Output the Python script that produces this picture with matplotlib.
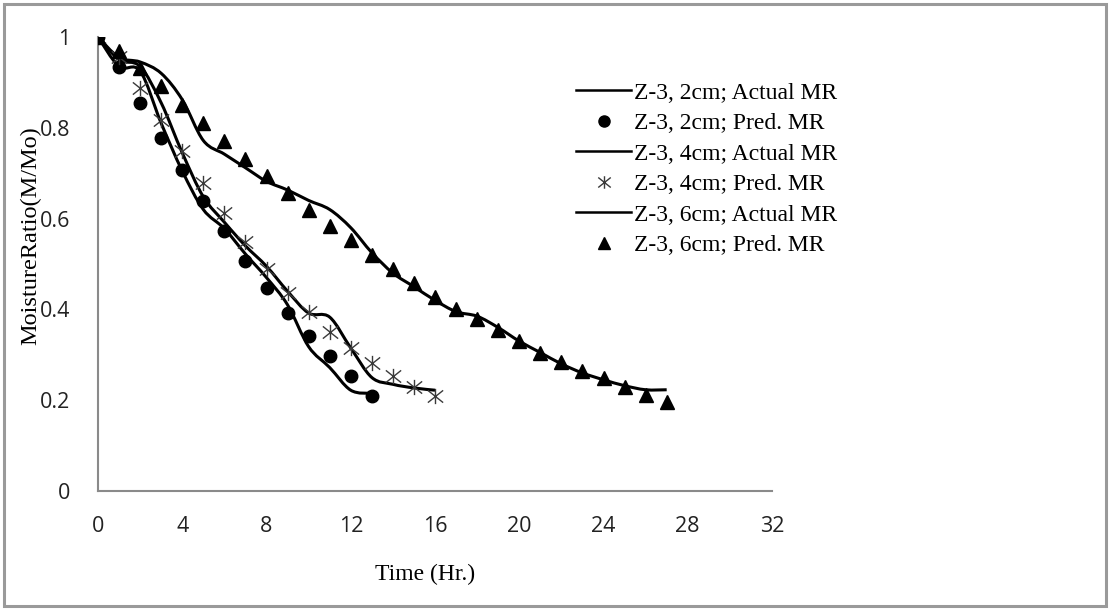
import numpy as np
import matplotlib.pyplot as plt
from matplotlib.path import Path
from matplotlib.patches import PathPatch, Rectangle
from matplotlib.lines import Line2D

# ---------------------------------------------------------------------------
# Moisture ratio data (hourly readings)
# ---------------------------------------------------------------------------
hours_2cm = np.arange(0, 14)
actual_2cm = [1.0, 0.935, 0.925, 0.81, 0.705, 0.62, 0.578, 0.522, 0.47, 0.41,
              0.318, 0.272, 0.222, 0.215]
pred_2cm = [1.0, 0.934, 0.855, 0.778, 0.707, 0.639, 0.573, 0.507, 0.447, 0.392,
            0.341, 0.297, 0.253, 0.209]

hours_4cm = np.arange(0, 17)
actual_4cm = [1.0, 0.95, 0.935, 0.855, 0.745, 0.648, 0.592, 0.54, 0.495, 0.44,
              0.392, 0.383, 0.315, 0.25, 0.235, 0.227, 0.222]
pred_4cm = [1.0, 0.956, 0.888, 0.818, 0.749, 0.678, 0.612, 0.549, 0.490, 0.436,
            0.394, 0.350, 0.315, 0.282, 0.253, 0.229, 0.209]

hours_6cm = np.arange(0, 28)
actual_6cm = [1.0, 0.955, 0.945, 0.92, 0.862, 0.772, 0.742, 0.712, 0.682, 0.663,
              0.64, 0.62, 0.58, 0.525, 0.48, 0.45, 0.42, 0.395, 0.385, 0.36,
              0.33, 0.305, 0.28, 0.26, 0.245, 0.232, 0.223, 0.223]
pred_6cm = [1.0, 0.969, 0.932, 0.892, 0.850, 0.811, 0.771, 0.731, 0.694, 0.656,
            0.619, 0.584, 0.553, 0.520, 0.488, 0.458, 0.427, 0.400, 0.378, 0.355,
            0.330, 0.305, 0.284, 0.265, 0.248, 0.228, 0.212, 0.195]

X_TICKS = np.arange(0, 33, 4)
Y_TICKS = [0, 0.2, 0.4, 0.6, 0.8, 1]

SERIF = ["Liberation Serif", "DejaVu Serif"]
SANS = ["Open Sans", "DejaVu Sans"]
AXIS_GRAY = "#8a8a8a"


def smooth_path(x, y):
    """Excel-style smoothed line: cubic Bezier segments through every point."""
    pts = np.column_stack([x, y]).astype(float)
    n = len(pts)
    verts, codes = [pts[0]], [Path.MOVETO]
    for i in range(n - 1):
        p0, p1 = pts[max(i - 1, 0)], pts[i]
        p2, p3 = pts[i + 1], pts[min(i + 2, n - 1)]
        verts += [p1 + (p2 - p0) / 6, p2 - (p3 - p1) / 6, p2]
        codes += [Path.CURVE4] * 3
    return Path(verts, codes)


# asterisk marker: X with a vertical stroke
star = Path(
    [(-1, -0.8), (1, 0.8), (-1, 0.8), (1, -0.8), (0, -1), (0, 1)],
    [Path.MOVETO, Path.LINETO, Path.MOVETO, Path.LINETO, Path.MOVETO, Path.LINETO],
)

fig = plt.figure(figsize=(11.1, 6.1), dpi=100)
ax = fig.add_axes([98 / 1110, 1 - 491 / 610, 674 / 1110, 454 / 610])

for hrs, act in [(hours_2cm, actual_2cm), (hours_4cm, actual_4cm), (hours_6cm, actual_6cm)]:
    ax.add_patch(PathPatch(smooth_path(hrs, act), facecolor="none",
                           edgecolor="black", lw=2.2, zorder=3))

ax.plot(hours_2cm, pred_2cm, ls="none", marker="o", ms=9, color="black", zorder=4)
ax.plot(hours_4cm, pred_4cm, ls="none", marker=star, ms=11, mec="#3a3a3a",
        mfc="none", mew=1.0, zorder=4)
ax.plot(hours_6cm, pred_6cm, ls="none", marker="^", ms=10, color="black", zorder=4)

ax.set_xlim(0, 32)
ax.set_ylim(0, 1)
ax.set_xticks(X_TICKS)
ax.set_yticks(Y_TICKS)
ax.set_xticklabels([str(v) for v in X_TICKS])
ax.set_yticklabels(["0", "0.2", "0.4", "0.6", "0.8", "1"])
ax.tick_params(axis="both", length=0, labelsize=15.5, colors="#222222")
ax.tick_params(axis="x", pad=18)
ax.tick_params(axis="y", pad=20)
for lbl in ax.get_xticklabels() + ax.get_yticklabels():
    lbl.set_family(SANS)
for side in ("top", "right"):
    ax.spines[side].set_visible(False)
for side in ("left", "bottom"):
    ax.spines[side].set_color(AXIS_GRAY)
    ax.spines[side].set_linewidth(1.5)

fig.text(425 / 1110, 1 - 574 / 610, "Time (Hr.)", family=SERIF, fontsize=17,
         ha="center", va="center")
fig.text(31 / 1110, 1 - 236 / 610, "MoistureRatio(M/Mo)", family=SERIF,
         fontsize=17.5, rotation=90, ha="center", va="center")

handles = [
    Line2D([], [], color="black", lw=1.8),
    Line2D([], [], ls="none", marker="o", ms=8, color="black"),
    Line2D([], [], color="black", lw=1.8),
    Line2D([], [], ls="none", marker=star, ms=9, mec="#3a3a3a", mfc="none", mew=1.0),
    Line2D([], [], color="black", lw=1.8),
    Line2D([], [], ls="none", marker="^", ms=8, color="black"),
]
labels = [
    "Z-3, 2cm; Actual MR",
    "Z-3, 2cm; Pred. MR",
    "Z-3, 4cm; Actual MR",
    "Z-3, 4cm; Pred. MR",
    "Z-3, 6cm; Actual MR",
    "Z-3, 6cm; Pred. MR",
]
fig.legend(handles, labels, loc="upper left",
           bbox_to_anchor=(576 / 1110, 1 - 82 / 610), frameon=False,
           prop={"family": SERIF, "size": 17}, handlelength=2.35,
           handletextpad=0.1, labelspacing=0.38, borderpad=0, borderaxespad=0)

# chart-area border
fig.add_artist(Rectangle((4 / 1110, 4 / 610), 1 - 8 / 1110, 1 - 8 / 610,
                         transform=fig.transFigure, fill=False,
                         edgecolor="#9a9a9a", lw=2.2))

fig.savefig("out.png", dpi=100)
